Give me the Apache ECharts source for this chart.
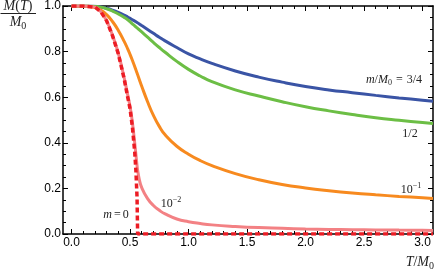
<!DOCTYPE html>
<html><head><meta charset="utf-8">
<script src="https://cdn.jsdelivr.net/npm/echarts@6/dist/echarts.min.js"></script>
<style>html,body{margin:0;padding:0;background:#fff}#c{width:436px;height:271px}</style>
</head><body><div id="c"></div>
<script>
// ---- data ----
const T = [0, 0.1, 0.2, 0.25, 0.3, 0.35, 0.4, 0.45, 0.48, 0.5, 0.52, 0.54, 0.55, 0.56, 0.565, 0.58, 0.6, 0.65, 0.7, 0.75, 0.8, 0.9, 1.0, 1.1, 1.2, 1.4, 1.6, 1.8, 2.0, 2.2, 2.4, 2.6, 2.8, 3.0, 3.09];
const mBlue   = [1, 1, 0.999, 0.996, 0.99, 0.982, 0.972, 0.96, 0.952, 0.946, 0.94, 0.934, 0.931, 0.928, 0.926, 0.921, 0.914, 0.897, 0.88, 0.863, 0.847, 0.818, 0.79, 0.768, 0.748, 0.715, 0.688, 0.666, 0.647, 0.632, 0.62, 0.608, 0.597, 0.587, 0.582];
const mGreen  = [1, 1, 0.998, 0.995, 0.988, 0.978, 0.965, 0.95, 0.94, 0.931, 0.922, 0.913, 0.908, 0.904, 0.902, 0.895, 0.886, 0.863, 0.84, 0.818, 0.797, 0.757, 0.722, 0.693, 0.668, 0.632, 0.605, 0.58, 0.558, 0.54, 0.524, 0.51, 0.499, 0.489, 0.485];
const mOrange = [1, 1, 0.993, 0.982, 0.962, 0.932, 0.893, 0.845, 0.812, 0.788, 0.762, 0.735, 0.72, 0.706, 0.699, 0.677, 0.648, 0.58, 0.52, 0.472, 0.435, 0.385, 0.35, 0.322, 0.3, 0.265, 0.238, 0.217, 0.202, 0.19, 0.18, 0.172, 0.165, 0.159, 0.156];
const mPink   = [1, 1, 0.995, 0.975, 0.935, 0.872, 0.792, 0.685, 0.61, 0.56, 0.49, 0.4, 0.35, 0.3, 0.28, 0.238, 0.203, 0.155, 0.125, 0.104, 0.088, 0.066, 0.054, 0.046, 0.04, 0.033, 0.028, 0.025, 0.022, 0.02, 0.019, 0.018, 0.017, 0.016, 0.015];
const mRed    = [1, 1, 0.995, 0.975, 0.935, 0.87, 0.79, 0.68, 0.6, 0.55, 0.47, 0.36, 0.28, 0.16, 0, 0, 0, 0, 0, 0, 0, 0, 0, 0, 0, 0, 0, 0, 0, 0, 0, 0, 0, 0, 0];
const xTickStep = 0.5, yTickStep = 0.2;
const xTickMax = 3;

// ---- layout ----
const GL = 63, GT = 6, GW = 370, GH = 228;
const XMIN = -0.073, XMAX = 3.09;
const ppu = GW / (XMAX - XMIN);

const pair = ys => T.map((t, i) => [t, ys[i]]);

const SERIF = '"Liberation Serif", "DejaVu Serif", serif';
const mctx = document.createElement('canvas').getContext('2d');
function fontOf(p) { return (p.it ? 'italic ' : '') + (p.size || 12) + 'px ' + SERIF; }
function label(parts, x, y, align) {
  const ws = parts.map(p => { mctx.font = fontOf(p); return mctx.measureText(p.t).width + (p.pre || 0); });
  const total = ws.reduce((a, b) => a + b, 0);
  let cx = align === 'right' ? x - total : align === 'center' ? x - total / 2 : x;
  return parts.map((p, i) => {
    const el = { type: 'text', x: cx + (p.pre || 0), y: y + (p.dy || 0), z: 100,
      style: { text: p.t, font: fontOf(p), fill: '#222', textAlign: 'left', textVerticalAlign: 'middle', align: 'left', verticalAlign: 'middle' } };
    cx += ws[i];
    return el;
  });
}

const graphics = [].concat(
  label([{t:'M',it:1,size:14},{t:'(',size:14},{t:'T',it:1,size:14},{t:')',size:14}], 18, 6, 'center'),
  [{ type: 'line', z: 100, shape: { x1: 0.5, y1: 13.5, x2: 36, y2: 13.5 }, style: { stroke: '#222', lineWidth: 1 } }],
  label([{t:'M',it:1,size:14},{t:'0',size:10,dy:4}], 18, 22, 'center'),
  label([{t:'T',it:1,size:14},{t:'/',size:14},{t:'M',it:1,size:14},{t:'0',size:10,dy:4}], 434, 262, 'right'),
  label([{t:'m',it:1},{t:'/'},{t:'M',it:1},{t:'0',size:8,dy:3},{t:'=',pre:4},{t:'3/4',pre:4}], 422, 79.5, 'right'),
  label([{t:'1/2'}], 410, 134, 'center'),
  label([{t:'10'},{t:'\u22121',size:8,dy:-4}], 411, 189.5, 'center'),
  label([{t:'10'},{t:'\u22122',size:8,dy:-4}], 171, 203.5, 'center'),
  label([{t:'m',it:1},{t:'=',pre:2},{t:'0',pre:2}], 116, 215, 'center')
);

const frameX = pos => ({ gridIndex: 0, type: 'value', min: XMIN, max: XMAX, position: pos,
  axisLine: { show: true, onZero: false, lineStyle: { color: '#000', width: 1.5 } },
  axisTick: { show: false }, axisLabel: { show: false }, splitLine: { show: false }, minorTick: { show: false } });
const tickX = (pos, lab) => ({ gridIndex: 1, type: 'value', min: 0, max: xTickMax, interval: xTickStep, position: pos,
  axisLine: { show: false, onZero: false },
  axisTick: { show: true, inside: true, length: 5, lineStyle: { color: '#000', width: 1 } },
  minorTick: { show: true, splitNumber: 5, length: 3, lineStyle: { color: '#000', width: 1 } },
  axisLabel: { show: lab, margin: 3, fontSize: 12, color: '#000', fontFamily: 'Liberation Sans', formatter: v => v.toFixed(1) },
  splitLine: { show: false } });
const frameY = (pos, lab) => ({ gridIndex: 0, type: 'value', min: 0, max: 1, interval: yTickStep, position: pos,
  axisLine: { show: true, onZero: false, lineStyle: { color: '#000', width: 1.5 } },
  axisTick: { show: true, inside: true, length: 5, lineStyle: { color: '#000', width: 1 } },
  minorTick: { show: true, splitNumber: 4, length: 3, lineStyle: { color: '#000', width: 1 } },
  axisLabel: { show: lab, margin: 2, fontSize: 12, color: '#000', fontFamily: 'Liberation Sans', formatter: v => v.toFixed(1) },
  splitLine: { show: false } });

const line = (name, ys, color, width, extra) => Object.assign({
  name, type: 'line', xAxisIndex: 0, yAxisIndex: 0, data: pair(ys), symbol: 'none',
  smooth: true,
  lineStyle: { color, width, cap: 'butt' }, emphasis: { disabled: true }, silent: true
}, extra || {});

const chart = echarts.init(document.getElementById('c'), null, { renderer: 'canvas' });
chart.setOption({
  animation: false,
  backgroundColor: '#fff',
  textStyle: { fontFamily: 'Liberation Sans' },
  grid: [
    { left: GL, top: GT, width: GW, height: GH, outerBoundsMode: 'none', containLabel: false },
    { left: GL + (0 - XMIN) * ppu, top: GT, width: xTickMax * ppu, height: GH, outerBoundsMode: 'none', containLabel: false }
  ],
  xAxis: [frameX('bottom'), frameX('top'), tickX('bottom', true), tickX('top', false)],
  yAxis: [frameY('left', true), frameY('right', false), { gridIndex: 1, type: 'value', min: 0, max: 1, show: false }],
  series: [
    line('3/4', mBlue, '#3A54A5', 3),
    line('1/2', mGreen, '#6CBE45', 3),
    line('1e-1', mOrange, '#F78A1F', 3),
    line('1e-2', mPink, '#F38184', 3),
    line('m=0', mRed, '#EC1C24', 3.5, { smooth: false, lineStyle: { color: '#EC1C24', width: 3.5, type: [5, 3], cap: 'butt' } })
  ],
  graphic: graphics
});
</script>
</body></html>
